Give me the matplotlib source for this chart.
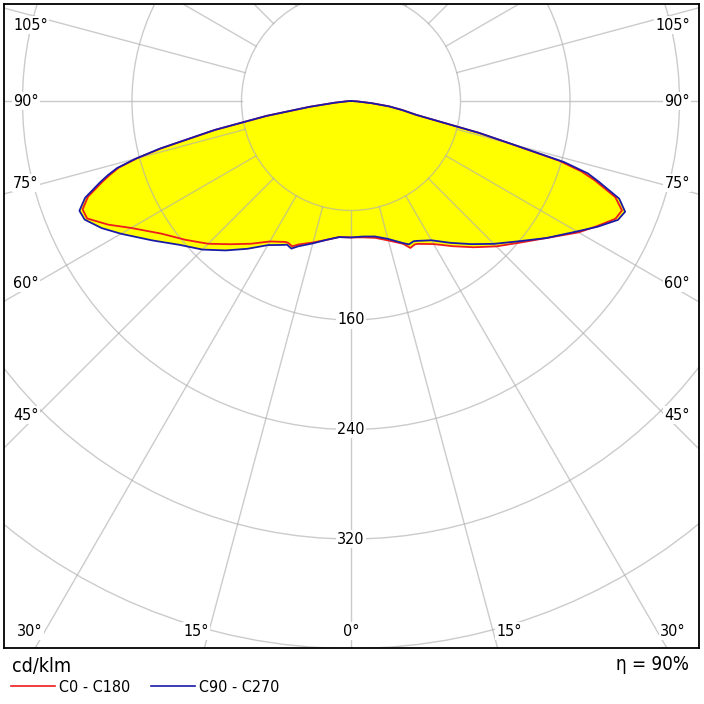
'''
Polar luminous intensity diagram (cd/klm), C0-C180 and C90-C270 planes
'''

import numpy as np
import matplotlib.pyplot as plt
from matplotlib.patches import Circle
from matplotlib.lines import Line2D

plt.rcParams['font.family'] = ['DejaVu Sans']
plt.rcParams['font.stretch'] = 'condensed'

# -------------------------- Data -------------------------
gamma = [0, 5, 10, 15, 20, 22, 24, 25, 30, 35, 40, 45, 50, 55, 60, 63, 66,
         68, 70, 72, 73, 74, 75, 76, 78, 80, 82, 84, 86, 88, 90]

# C0 - C180 (red), left half and right half
c0_left = [99.7, 99.8, 103.0, 107.0, 111.5, 114.5, 113.3, 113.6, 118.5, 127.3,
           136.6, 147.5, 157.8, 169.0, 185.5, 199.0, 211.0, 211.5, 204.5, 191.0,
           184.0, 176.5, 162.0, 143.0, 101.5, 62.5, 30.5, 12.0, 3.0, 1.0, 0.0]
c0_right = [99.7, 100.0, 101.5, 105.5, 111.0, 115.8, 114.7, 115.2, 120.7, 129.5,
            139.5, 150.2, 161.0, 174.5, 192.0, 201.5, 211.5, 213.5, 205.5, 187.0,
            176.0, 158.0, 121.0, 96.0, 48.5, 38.0, 28.0, 15.0, 5.0, 1.0, 0.0]

# C90 - C270 (blue), left half and right half
c90_left = [99.7, 99.8, 103.0, 107.7, 113.0, 116.3, 114.9, 116.0, 121.6, 131.8,
            142.5, 153.5, 163.5, 177.5, 194.0, 204.5, 213.0, 214.0, 206.7, 193.0,
            186.0, 177.8, 163.0, 144.0, 102.0, 63.0, 30.7, 12.0, 3.0, 1.0, 0.0]
c90_right = [99.7, 99.4, 100.5, 104.3, 110.4, 113.0, 112.2, 112.8, 117.5, 126.5,
             136.5, 147.6, 159.5, 174.5, 190.6, 202.3, 213.5, 216.0, 208.5, 190.0,
             181.0, 162.0, 122.0, 97.0, 49.0, 38.0, 28.0, 15.0, 5.0, 1.0, 0.0]

rings = [80, 160, 240, 320, 400]
ring_labels = [160, 240, 320]
spoke_angles = np.arange(0, 360, 15)
side_labels = ['105°', '90°', '75°', '60°', '45°']
bottom_labels = ['30°', '15°', '0°', '15°', '30°']
efficiency = 90

# -------------------------- Layout (pixels of the 704x704 image) -------------------------
W = 704
frame_l, frame_r, frame_t, frame_b = 4, 699, 4, 648
cx, cy = 351, 101          # pole of the diagram
px_per_unit = 109.5 / 80   # pixels per cd/klm


def to_xy(g, left, right):
    g = np.radians(np.array(g, dtype=float))
    left = np.array(left, dtype=float)
    right = np.array(right, dtype=float)
    x = np.concatenate([-left[::-1] * np.sin(g[::-1]), right * np.sin(g)])
    y = np.concatenate([-left[::-1] * np.cos(g[::-1]), -right * np.cos(g)])
    return x, y


def frac(px, py):
    return (px - frame_l) / (frame_r - frame_l), (frame_b - py) / (frame_b - frame_t)


fig = plt.figure(figsize=(7.04, 7.04), dpi=100)
ax = fig.add_axes([frame_l / W, (W - frame_b) / W,
                   (frame_r - frame_l) / W, (frame_b - frame_t) / W])
ax.set_xlim((frame_l - cx) / px_per_unit, (frame_r - cx) / px_per_unit)
ax.set_ylim(-(frame_b - cy) / px_per_unit, (cy - frame_t) / px_per_unit)
ax.set_xticks([])
ax.set_yticks([])
for sp in ax.spines.values():
    sp.set_linewidth(1.3)
    sp.set_color('black')
    sp.set_zorder(10)

# Curves and fill
x0, y0 = to_xy(gamma, c0_left, c0_right)
x90, y90 = to_xy(gamma, c90_left, c90_right)
ax.fill(x0, y0, color='#ffff00', lw=0, zorder=1)
ax.fill(x90, y90, color='#ffff00', lw=0, zorder=1)

# Grid: rings and spokes
grid_kw = dict(color='#b0b0b0', alpha=0.65, lw=1.0, zorder=2)
for r in rings:
    ax.add_patch(Circle((0, 0), r, fill=False, **grid_kw))
for a in spoke_angles:
    t = np.radians(a)
    ax.plot([rings[0] * np.sin(t), 700 * np.sin(t)],
            [-rings[0] * np.cos(t), -700 * np.cos(t)], **grid_kw)

ax.plot(x0, y0, color='#ee1c1c', lw=1.3, zorder=3)
ax.plot(x90, y90, color='#1a1aa8', lw=1.3, zorder=4)

# Labels
box = dict(facecolor='white', edgecolor='none', pad=1.0)
fs = 11.5
for r in ring_labels:
    ax.text(0, -r, str(r), ha='center', va='center', fontsize=fs, bbox=box, zorder=5)

side_y = [25, 101, 183, 283, 415]
for lab, py in zip(side_labels, side_y):
    fx, fy = frac(13, py)
    ax.text(fx, fy, lab, transform=ax.transAxes, ha='left', va='center',
            fontsize=fs, bbox=box, zorder=5)
    fx, fy = frac(690, py)
    ax.text(fx, fy, lab, transform=ax.transAxes, ha='right', va='center',
            fontsize=fs, bbox=box, zorder=5)

bottom_x = [30, 196, 351, 509, 673]
for lab, px in zip(bottom_labels, bottom_x):
    fx, fy = frac(px, 631)
    ax.text(fx, fy, lab, transform=ax.transAxes, ha='center', va='center',
            fontsize=fs, bbox=box, zorder=5)

# Footer: unit, efficiency and legend
fig.text(12 / W, 1 - 667 / W, 'cd/klm', ha='left', va='center', fontsize=14)
fig.text(689 / W, 1 - 665 / W, f'η = {efficiency}%', ha='right', va='center', fontsize=13.5)
fig.add_artist(Line2D([11 / W, 55 / W], [1 - 686 / W] * 2, color='#ee1c1c', lw=1.2))
fig.text(59 / W, 1 - 687 / W, 'C0 - C180', ha='left', va='center', fontsize=11.5)
fig.add_artist(Line2D([151 / W, 195 / W], [1 - 686 / W] * 2, color='#1a1aa8', lw=1.2))
fig.text(199 / W, 1 - 687 / W, 'C90 - C270', ha='left', va='center', fontsize=11.5)

fig.savefig('out.png', dpi=100)
